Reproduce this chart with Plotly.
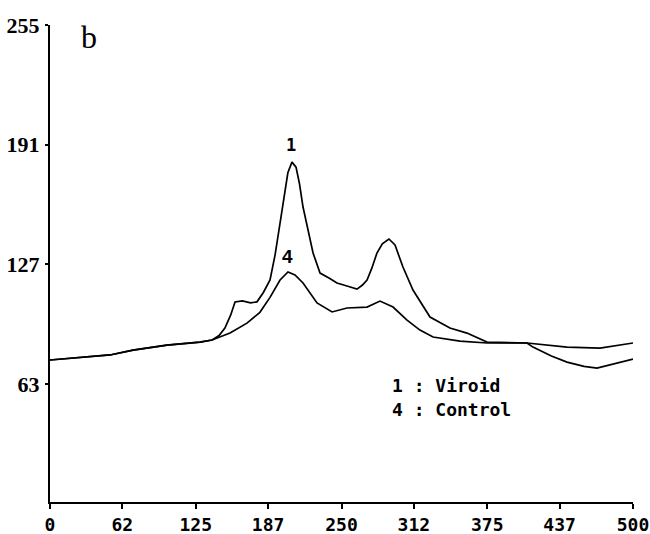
import plotly.graph_objects as go

# Curve 1: Viroid
viroid_x = [0, 28.3, 51.5, 71.2, 100.3, 128.6, 139, 145, 150, 155, 158.7, 165, 172, 177.5,
            183, 188.7, 193, 197.3, 201, 204, 207.5, 211, 214, 217, 225.6, 231.6, 240,
            246.1, 254.7, 263.3, 268, 271.9, 276, 280.4, 285, 290.7, 295.9, 302.7, 311.3,
            325.9, 343, 357.6, 374.8, 392, 409.1, 414.2, 430, 443.4, 458, 469.1, 484.6, 500]
viroid_y = [75.9, 77.5, 78.6, 81.2, 83.9, 85.5, 86.6, 89, 93, 100, 106.9, 107.5, 106.5, 107,
            112, 118.7, 132, 149.1, 165, 176, 181.7, 179, 170, 157.7, 133.1, 122.4, 119.5,
            117.1, 115.5, 113.8, 116, 118.7, 125, 133.1, 138, 140.6, 137.4, 125.6, 113.3,
            98.9, 93, 90.3, 85.5, 85.3, 85, 82.8, 78, 74.8, 72.5, 71.6, 73.8, 76.4]

# Curve 4: Control
control_x = [0, 28.3, 51.5, 71.2, 100.3, 128.6, 139, 154.4, 168.9, 180, 188.7, 197.3, 204.1,
             210.1, 217, 229, 241.9, 254.7, 271.9, 283, 294.2, 306.2, 317.3, 328.5, 351.6,
             374.8, 409.1, 443.4, 471.7, 500]
control_y = [75.9, 77.5, 78.6, 81.2, 83.9, 85.5, 86.6, 90.3, 95.6, 101.4, 109.4, 118.7, 123,
             121.4, 117.1, 106.4, 101.6, 103.7, 104.2, 107.4, 104.2, 97.2, 91.9, 88.2, 86,
             85, 85, 82.8, 82.3, 85]

x_ticks = [0, 62, 125, 187, 250, 312, 375, 437, 500]
y_ticks = [63, 127, 191, 255]
legend_lines = ["1 : Viroid", "4 : Control"]

fig = go.Figure()
fig.add_trace(go.Scatter(x=viroid_x, y=viroid_y, mode="lines",
                         line=dict(color="black", width=1.7), showlegend=False))
fig.add_trace(go.Scatter(x=control_x, y=control_y, mode="lines",
                         line=dict(color="black", width=1.7), showlegend=False))

mono = "DejaVu Sans Mono"
fig.add_annotation(x=206.7, y=190.8, text="<b>1</b>", showarrow=False,
                   font=dict(family=mono, size=17, color="black"))
fig.add_annotation(x=204, y=131, text="<b>4</b>", showarrow=False,
                   font=dict(family="Liberation Sans", size=19, color="black"))
fig.add_annotation(x=33.4, y=248.5, text="b", showarrow=False,
                   font=dict(family="Liberation Serif", size=32, color="black"))
fig.add_annotation(x=291.6, y=62.5, text=legend_lines[0], showarrow=False, xanchor="left",
                   font=dict(family=mono, size=18, color="black", weight="bold"))
fig.add_annotation(x=291.6, y=49.2, text=legend_lines[1], showarrow=False, xanchor="left",
                   font=dict(family=mono, size=18, color="black", weight="bold"))

fig.update_xaxes(range=[0, 500], tickvals=x_ticks, ticktext=[str(v) for v in x_ticks],
                 showline=True, linecolor="black", linewidth=2, showgrid=False,
                 zeroline=False, ticks="outside", ticklen=5, tickwidth=1.5, tickcolor="black",
                 automargin=False, ticklabeloverflow="allow",
                 tickfont=dict(family=mono, size=18, color="black", weight="bold"))
fig.update_yaxes(range=[0, 255], tickvals=y_ticks, ticktext=[str(v) for v in y_ticks],
                 showline=True, linecolor="black", linewidth=2, showgrid=False,
                 zeroline=False, ticks="outside", ticklen=3, tickwidth=1.5, tickcolor="black",
                 ticklabelstandoff=1, automargin=False, ticklabeloverflow="allow",
                 tickfont=dict(family="Liberation Serif", size=22, color="black", weight="bold"))

fig.update_layout(width=650, height=534, margin=dict(l=50, r=17, t=25, b=32),
                  paper_bgcolor="white", plot_bgcolor="white")
fig.write_html("out.html", config={"displayModeBar": False},
               post_script="document.body.style.margin='0';document.body.style.overflow='hidden';")
